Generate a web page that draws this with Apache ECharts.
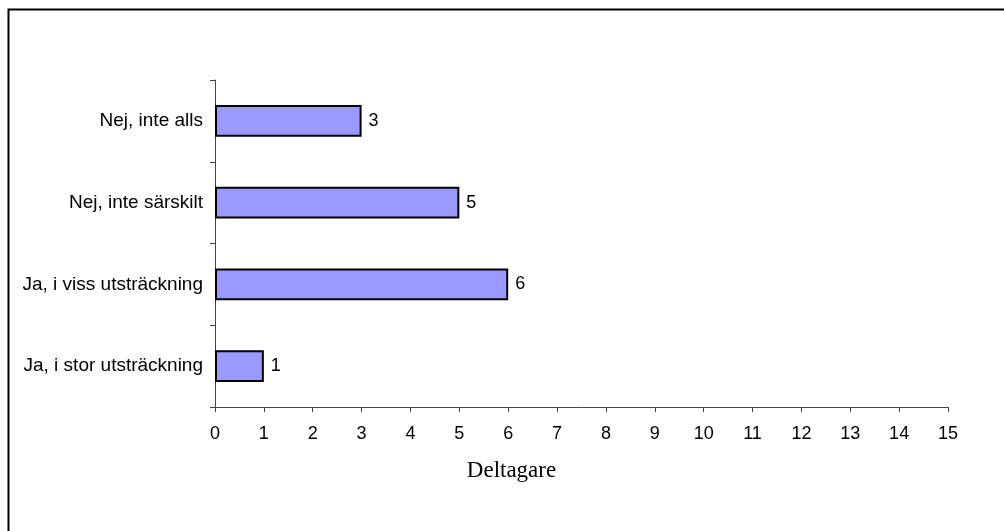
<!DOCTYPE html>
<html>
<head>
<meta charset="utf-8">
<script src="https://cdn.jsdelivr.net/npm/echarts@6/dist/echarts.min.js"></script>
<style>
  html, body { margin: 0; padding: 0; background: #fff; }
  #chart { width: 1004px; height: 531px; }
</style>
</head>
<body>
<div id="chart"></div>
<script>
// Answer categories, bottom to top
const categories = [
  'Ja, i stor utsträckning',
  'Ja, i viss utsträckning',
  'Nej, inte särskilt',
  'Nej, inte alls'
];
// Number of participants per answer
const counts = [1, 6, 5, 3];
const axisTitle = 'Deltagare';
const xMin = 0, xMax = 15, xStep = 1;

const chart = echarts.init(document.getElementById('chart'), null, { renderer: 'canvas' });

chart.setOption({
  animation: false,
  backgroundColor: '#ffffff',
  graphic: [{
    type: 'rect',
    shape: { x: 8.5, y: 9.5, width: 1200, height: 800 },
    style: { fill: 'none', stroke: '#000', lineWidth: 2 },
    silent: true
  }],
  grid: { left: 215, top: 80, right: 56, bottom: 124, containLabel: false },
  xAxis: {
    type: 'value',
    min: xMin, max: xMax, interval: xStep,
    name: axisTitle,
    nameLocation: 'middle',
    nameGap: 52,
    nameTextStyle: {
      fontFamily: 'Liberation Serif', fontSize: 23, color: '#000',
      padding: [0, 140, 0, 0]
    },
    axisLine: { show: true, lineStyle: { color: '#444', width: 1 } },
    axisTick: { show: true, length: 5, lineStyle: { color: '#444' } },
    axisLabel: { fontFamily: 'Liberation Sans', fontSize: 18, color: '#000', margin: 18 },
    splitLine: { show: false }
  },
  yAxis: {
    type: 'category',
    data: categories,
    axisLine: { show: true, lineStyle: { color: '#444', width: 1 } },
    axisTick: { show: true, length: 5, lineStyle: { color: '#444' } },
    axisLabel: { fontFamily: 'Liberation Sans', fontSize: 19, color: '#000', margin: 12 },
    splitLine: { show: false }
  },
  series: [{
    type: 'bar',
    data: counts,
    barWidth: '39%',
    itemStyle: { color: '#9999FF', borderColor: '#000', borderWidth: 2 },
    label: {
      show: true,
      position: 'right',
      distance: 7,
      fontFamily: 'Liberation Sans',
      fontSize: 18,
      color: '#000'
    }
  }]
});
</script>
</body>
</html>
